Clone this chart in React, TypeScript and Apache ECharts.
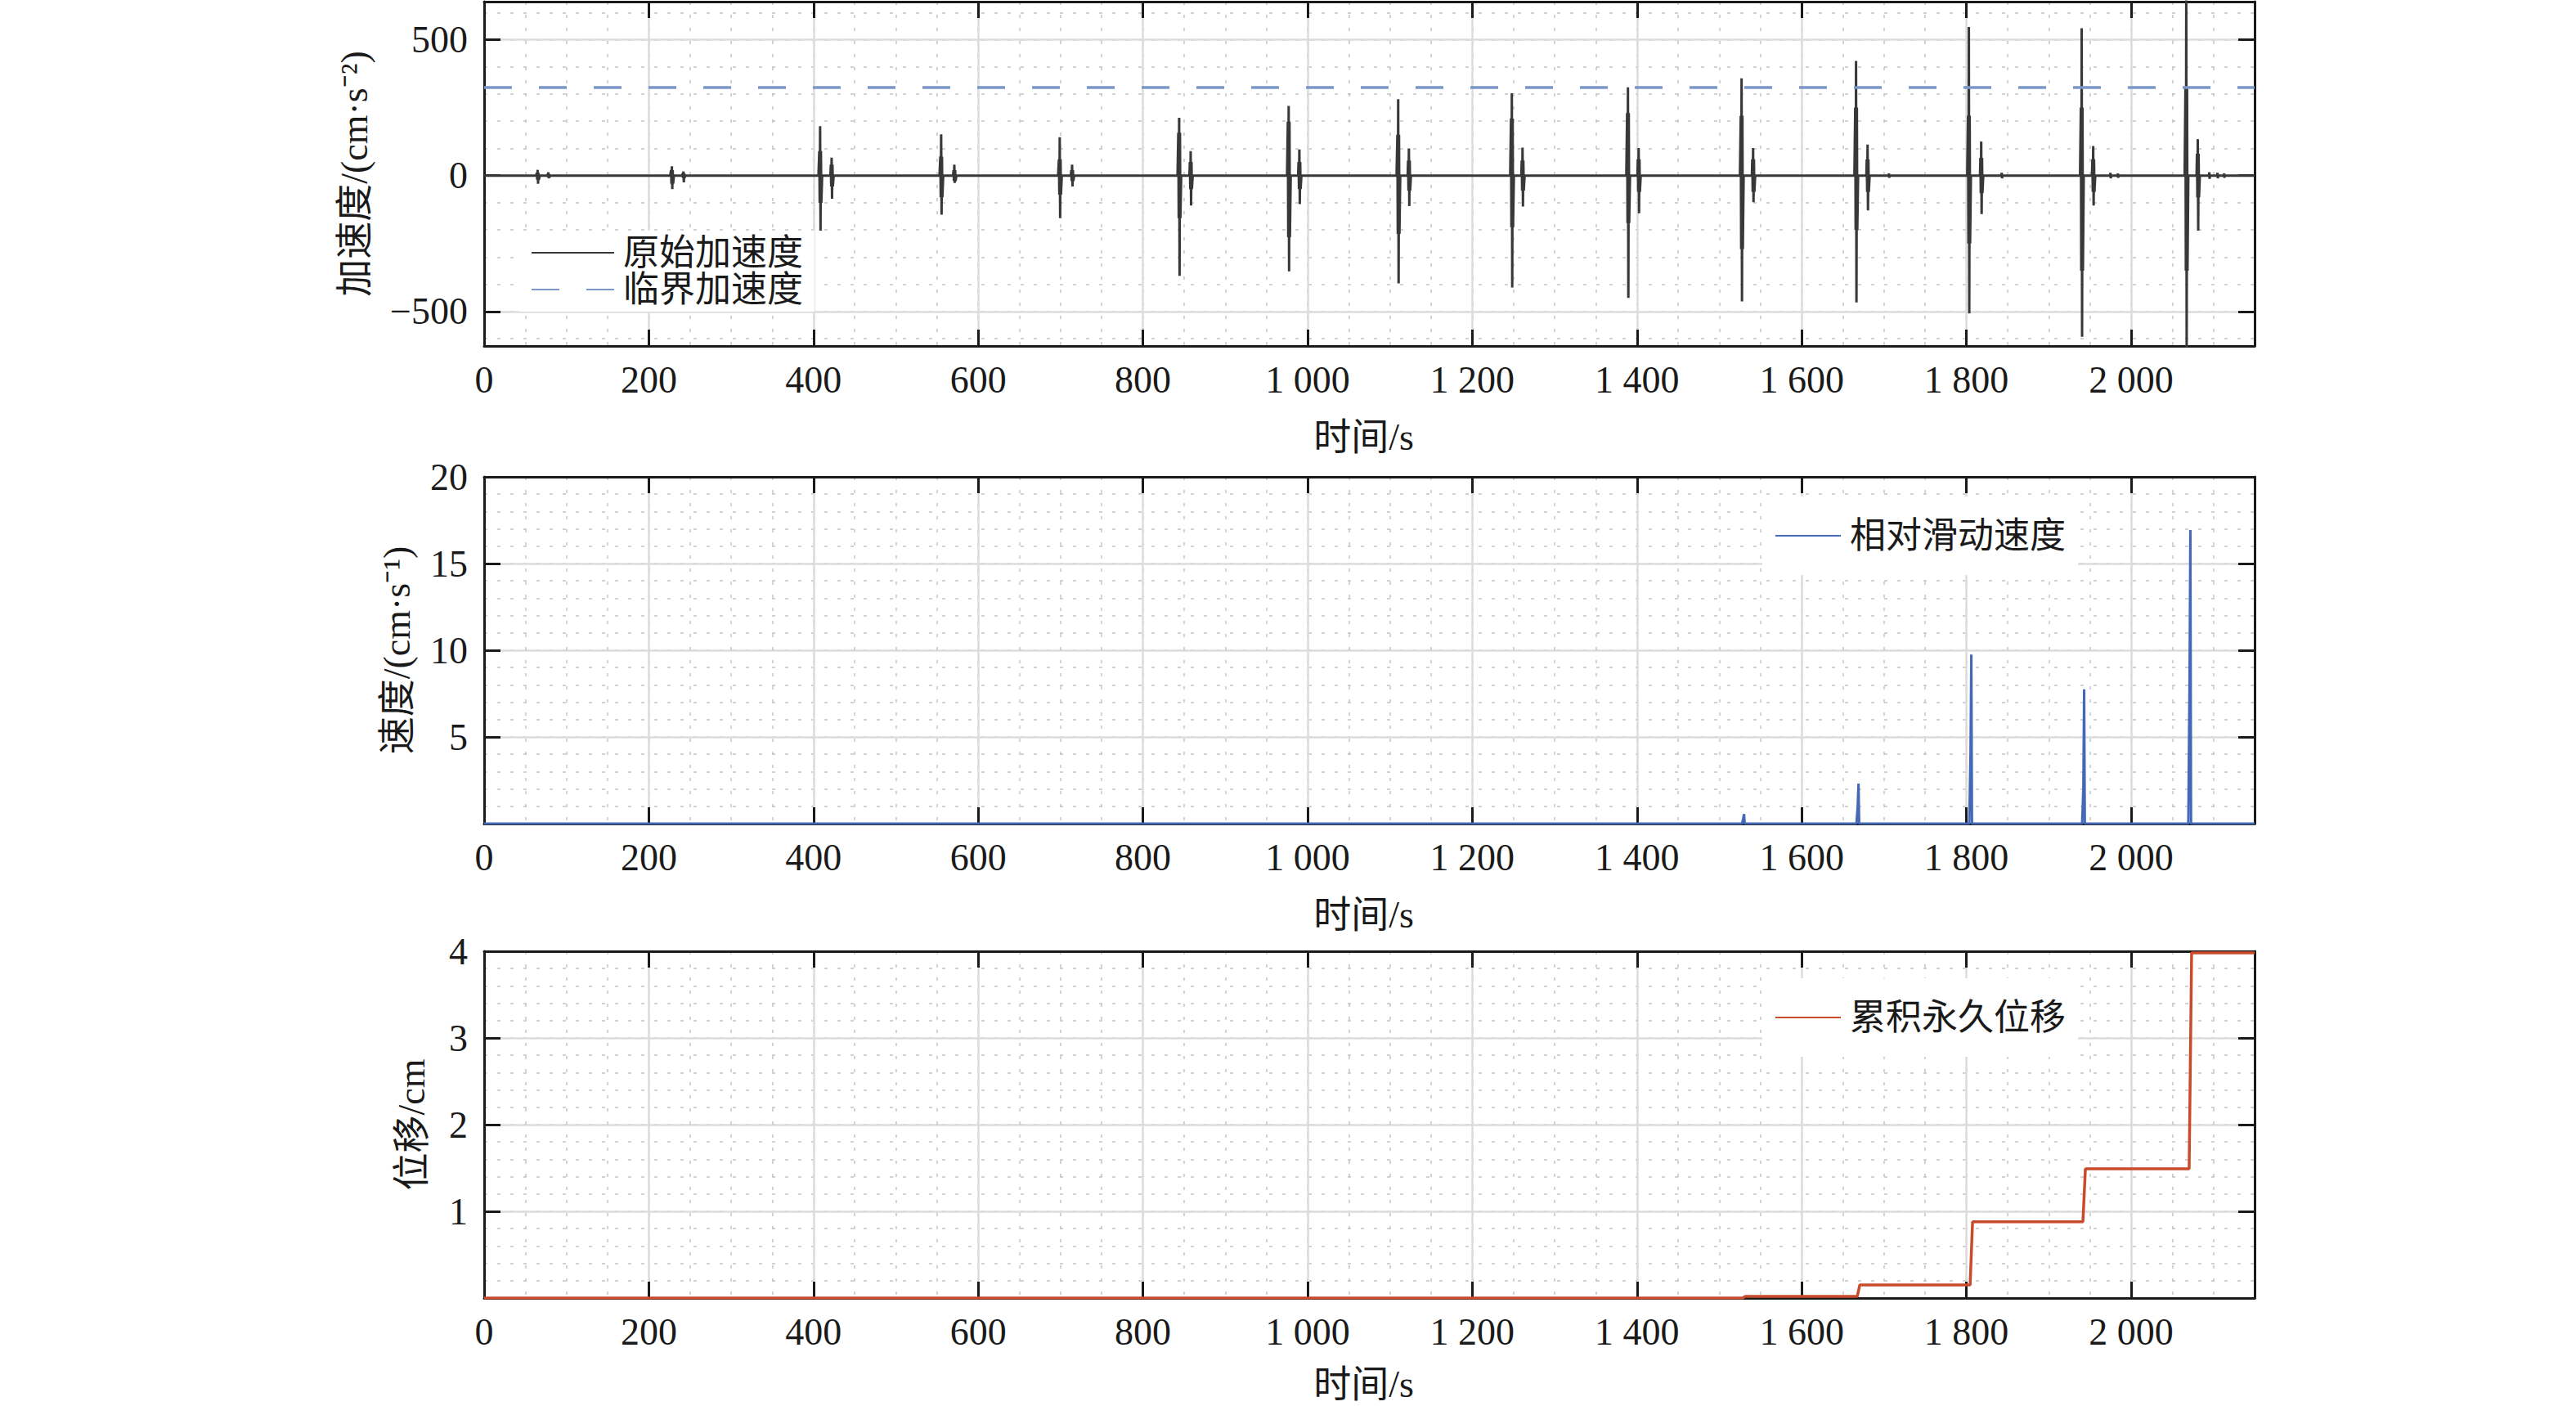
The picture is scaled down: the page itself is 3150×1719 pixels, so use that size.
import React, { useEffect, useRef } from "react";
import * as echarts from "echarts";

// ---------- data ----------
const T_MAX = 2150;
const CRITICAL_ACC = 324;

// acceleration bursts: main spike and following sub-burst
const mainT = [66, 229, 409, 556, 700, 845, 978, 1111, 1249, 1390, 1528, 1667, 1804, 1941, 2068];
const mainUp = [21, 34, 182, 152, 141, 213, 256, 281, 303, 325, 358, 422, 547, 542, 660];
const mainDown = [-30, -50, -203, -144, -157, -369, -352, -397, -412, -450, -463, -467, -507, -593, -640];
const mainCoreUp = [10, 20, 90, 70, 60, 158, 198, 150, 210, 230, 220, 250, 220, 250, 320];
const mainCoreDown = [-15, -30, -100, -80, -70, -157, -227, -215, -190, -175, -270, -200, -250, -350, -350];
const subT = [79, 243, 423, 572, 715, 859, 991, 1124, 1262, 1403, 1542, 1681, 1819, 1955, 2082];
const subUp = [12, 15, 66, 40, 40, 90, 96, 100, 103, 101, 101, 114, 125, 109, 134];
const subDown = [-10, -25, -85, -27, -40, -110, -105, -112, -114, -139, -98, -128, -142, -110, -203];
const subCore = [5, 8, 40, 20, 20, 50, 50, 55, 55, 60, 60, 60, 65, 60, 80];
const tailT = [1706, 1843, 1975, 1984, 2095, 2105, 2113];
const tailA = [8, 10, 10, 8, 12, 10, 8];

// relative sliding velocity spikes
const velT = [1530, 1669, 1806, 1943, 2072];
const velPeak = [0.55, 2.31, 9.75, 7.75, 16.93];
const velShoulder = [0.3, 1.0, 4.0, 2.0, 8.3];

// accumulated permanent displacement levels after each slip
const dispLevel = [0.02, 0.15, 0.88, 1.49, 3.98];

// axis ticks
const X_MAJOR = 200;
const X_MINOR = 50;
const ACC_MIN = -627;
const ACC_MAX = 640;
const VEL_MAX = 20;
const DISP_MAX = 4;

// ---------- builders ----------
function buildAccel(): [number, number][] {
  const pts: [number, number][] = [[0, 0]];
  for (let i = 0; i < mainT.length; i++) {
    const t = mainT[i];
    pts.push(
      [t - 3, 0],
      [t - 2, mainCoreUp[i]],
      [t - 1.5, mainCoreDown[i]],
      [t - 1, mainUp[i]],
      [t - 0.5, mainDown[i]],
      [t, mainCoreUp[i]],
      [t + 0.5, mainCoreDown[i]],
      [t + 1.5, 0]
    );
    const s = subT[i];
    pts.push(
      [s - 2.5, 0],
      [s - 2, subCore[i]],
      [s - 1.5, -subCore[i]],
      [s - 1, subUp[i]],
      [s - 0.5, subDown[i]],
      [s, subCore[i]],
      [s + 0.5, -subCore[i]],
      [s + 1.5, 0]
    );
  }
  for (let i = 0; i < tailT.length; i++) {
    const t = tailT[i];
    pts.push([t - 0.5, 0], [t, tailA[i]], [t + 0.3, -tailA[i]], [t + 0.8, 0]);
  }
  pts.push([T_MAX, 0]);
  pts.sort((a, b) => a[0] - b[0]);
  return pts;
}

function buildVel(): [number, number][] {
  const pts: [number, number][] = [[0, 0]];
  for (let i = 0; i < velT.length; i++) {
    const t = velT[i];
    pts.push([t - 2.5, 0], [t - 1, velShoulder[i]], [t, velPeak[i]], [t + 0.8, 0]);
  }
  pts.push([T_MAX, 0]);
  return pts;
}

function buildDisp(): [number, number][] {
  const pts: [number, number][] = [[0, 0]];
  let prev = 0;
  for (let i = 0; i < velT.length; i++) {
    const t = velT[i];
    pts.push([t - 1.5, prev], [t + 1.5, dispLevel[i]]);
    prev = dispLevel[i];
  }
  pts.push([T_MAX, prev]);
  return pts;
}

// ---------- styles ----------
const FONT = "'Liberation Serif', 'Times New Roman', 'Noto Sans CJK SC', serif";
const INK = "#1a1a1a";
const FS = 46;

const grids = [
  { left: 592, width: 2165, top: 2, height: 421 },
  { left: 592, width: 2165, top: 583, height: 424 },
  { left: 592, width: 2165, top: 1163, height: 424 },
];

const xFmt = (v: number) => {
  if (v % X_MAJOR !== 0) return "";
  if (v >= 1000) return `${Math.floor(v / 1000)} ${String(v % 1000).padStart(3, "0")}`;
  return String(v);
};

function xAxesFor(g: number, gap: number) {
  return [
    {
      type: "value", gridIndex: g, min: 0, max: T_MAX, interval: X_MINOR,
      axisLine: { show: false }, axisTick: { show: false }, axisLabel: { show: false },
      splitLine: { show: true, lineStyle: { color: "#c4c4c4", width: 1.5, type: [4, 12] } },
    },
    {
      type: "value", gridIndex: g, min: 0, max: T_MAX, interval: X_MAJOR, position: "bottom",
      axisLine: { show: true, onZero: false, lineStyle: { color: INK, width: 3 } },
      axisTick: { show: true, inside: true, length: 20, lineStyle: { color: INK, width: 3 } },
      axisLabel: { show: true, margin: 18, fontSize: FS, fontFamily: FONT, color: INK, formatter: xFmt },
      splitLine: { show: true, lineStyle: { color: "#dcdcdc", width: 2.5 } },
      name: "时间/s", nameLocation: "middle", nameGap: gap,
      nameTextStyle: { fontSize: FS, fontFamily: FONT, color: INK, padding: [0, 14, 0, 0] },
    },
    {
      type: "value", gridIndex: g, min: 0, max: T_MAX, interval: X_MAJOR, position: "top",
      axisLine: { show: true, onZero: false, lineStyle: { color: INK, width: 3 } },
      axisTick: { show: true, inside: true, length: 20, lineStyle: { color: INK, width: 3 } },
      axisLabel: { show: false }, splitLine: { show: false },
    },
  ];
}

function yAxesFor(g: number, min: number, max: number, major: number, minor: number, name: string, gap: number, fmt: (v: number) => string) {
  const fixed = min % major !== 0;
  const majorInt = fixed ? { minInterval: major, maxInterval: major, splitNumber: 2 } : { interval: major };
  const minorInt = min % minor !== 0 ? { minInterval: minor, maxInterval: minor } : { interval: minor };
  return [
    {
      type: "value", gridIndex: g, min, max, ...minorInt,
      axisLine: { show: false }, axisTick: { show: false }, axisLabel: { show: false },
      splitLine: { show: true, lineStyle: { color: "#c4c4c4", width: 1.5, type: [4, 12] } },
    },
    {
      type: "value", gridIndex: g, min, max, ...majorInt, position: "left",
      axisLine: { show: true, onZero: false, lineStyle: { color: INK, width: 3 } },
      axisTick: { show: true, inside: true, length: 20, lineStyle: { color: INK, width: 3 } },
      axisLabel: { show: true, margin: 20, fontSize: FS, fontFamily: FONT, color: INK, formatter: fmt },
      splitLine: { show: true, lineStyle: { color: "#dcdcdc", width: 2.5 } },
      name, nameLocation: "middle", nameGap: gap, nameRotate: 90,
      nameTextStyle: { fontSize: FS, fontFamily: FONT, color: INK },
    },
    {
      type: "value", gridIndex: g, min, max, ...majorInt, position: "right",
      axisLine: { show: true, onZero: false, lineStyle: { color: INK, width: 3 } },
      axisTick: { show: true, inside: true, length: 20, lineStyle: { color: INK, width: 3 } },
      axisLabel: { show: false }, splitLine: { show: false },
    },
  ];
}

const accFmt = (v: number) => (v === -500 ? "−500" : v === 0 ? "0" : v === 500 ? "500" : "");
const posFmt = (v: number) => (v === 0 || v !== Math.round(v) ? "" : String(v));

const legendText = { fontSize: 44, fontFamily: FONT, color: INK, lineHeight: 44, padding: [0, 0, 0, 6] };
const legendCommon = {
  orient: "vertical",
  itemHeight: 20,
  backgroundColor: "#ffffff",
  selectedMode: false,
  textStyle: legendText,
  itemStyle: { opacity: 0 },
};

export default function App() {
  const ref = useRef<HTMLDivElement>(null);
  useEffect(() => {
    if (!ref.current) return;
    const chart = echarts.init(ref.current, undefined, { renderer: "svg" });
    const option: any = {
      animation: false,
      backgroundColor: "#ffffff",
      grid: grids.map((g) => ({ ...g, containLabel: false, outerBoundsMode: "none" })),
      xAxis: [...xAxesFor(0, 88), ...xAxesFor(1, 88), ...xAxesFor(2, 82)],
      yAxis: [
        ...yAxesFor(0, ACC_MIN, ACC_MAX, 500, 100, "加速度/(cm·s⁻²)", 136, accFmt),
        ...yAxesFor(1, 0, VEL_MAX, 5, 1, "速度/(cm·s⁻¹)", 84, posFmt),
        ...yAxesFor(2, 0, DISP_MAX, 1, 0.2, "位移/cm", 66, posFmt),
      ],
      legend: [
        {
          ...legendCommon,
          data: ["原始加速度", "临界加速度"], left: 635, top: 282,
          padding: [5, 14, 5, 14], itemWidth: 101, itemGap: 1,
        },
        {
          ...legendCommon,
          data: ["相对滑动速度"], left: 2155, top: 607,
          padding: [26, 15, 26, 15], itemWidth: 80,
        },
        {
          ...legendCommon,
          data: ["累积永久位移"], left: 2155, top: 1196,
          padding: [26, 15, 26, 15], itemWidth: 80,
        },
      ],
      series: [
        {
          name: "原始加速度", type: "line", xAxisIndex: 1, yAxisIndex: 1, data: buildAccel(),
          symbol: "none", color: "#383838", lineStyle: { color: "#383838", width: 3 }, z: 3,
        },
        {
          name: "临界加速度", type: "line", xAxisIndex: 1, yAxisIndex: 1,
          data: [[0, CRITICAL_ACC], [T_MAX, CRITICAL_ACC]],
          symbol: "none", color: "#7b96c8", lineStyle: { color: "#7b96c8", width: 3.5, type: [34, 33] }, z: 4,
        },
        {
          name: "相对滑动速度", type: "line", xAxisIndex: 4, yAxisIndex: 4, data: buildVel(),
          symbol: "none", color: "#4468b8", lineStyle: { color: "#4468b8", width: 3 },
        },
        {
          name: "累积永久位移", type: "line", xAxisIndex: 7, yAxisIndex: 7, data: buildDisp(),
          symbol: "none", color: "#c84b2c", lineStyle: { color: "#c84b2c", width: 3.5 },
        },
      ],
    };
    chart.setOption(option);
    return () => chart.dispose();
  }, []);
  return (
    <div
      ref={ref}
      style={{ position: "absolute", left: 0, top: 0, width: 3150, height: 1719, background: "#fff" }}
    />
  );
}
